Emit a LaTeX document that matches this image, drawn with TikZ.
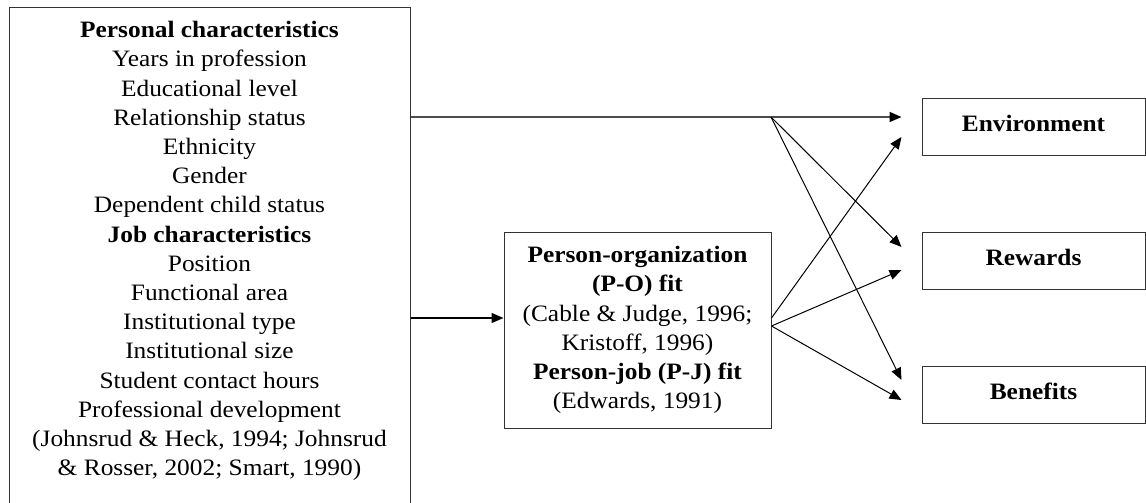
\documentclass[tikz,border=0pt]{standalone}
\usepackage{fontspec}
\setmainfont{Liberation Serif}[FakeStretch=1.08]
\usetikzlibrary{arrows.meta,calc}
\begin{document}
\begin{tikzpicture}[x=1pt,y=-1pt,
 box/.style={draw=black!80,line width=1pt,inner sep=0pt},
 txt/.style={align=center,font=\fontsize{23.5}{29.2}\selectfont,inner sep=0pt},
 conn/.style={line width=1pt,-{Triangle[length=12pt,width=10pt,color=black]}},
 hline/.style={draw=black!70,line width=1.7pt,-{Triangle[length=12pt,width=10pt,color=black]}}]
\useasboundingbox (0,0) rectangle (1146,503);
\clip (0,0) rectangle (1146,503);
\fill[white] (0,0) rectangle (1146,503);
% left box
\node[box,minimum width=401pt,minimum height=520pt,anchor=north west] (pc) at (9,7) {};
\node[txt] (pctext) at (209.5,251) {\textbf{Personal characteristics}\\
Years in profession\\
Educational level\\
Relationship status\\
Ethnicity\\
Gender\\
Dependent child status\\
\textbf{Job characteristics}\\
Position\\
Functional area\\
Institutional type\\
Institutional size\\
Student contact hours\\
Professional development\\
(Johnsrud \& Heck, 1994; Johnsrud\\
\& Rosser, 2002; Smart, 1990)};
% middle box
\node[box,txt,minimum width=267pt,minimum height=196pt] (po) at (637.5,330) {\textbf{Person-organization}\\
\textbf{(P-O) fit}\\
(Cable \& Judge, 1996;\\
Kristoff, 1996)\\
\textbf{Person-job (P-J) fit}\\
(Edwards, 1991)};
% right boxes
\node[box,txt,minimum width=223pt,minimum height=57pt,text depth=6pt] (env) at (1033.5,126.5) {\textbf{Environment}};
\node[box,txt,minimum width=223pt,minimum height=57pt,text depth=6pt] (rew) at (1033.5,260.5) {\textbf{Rewards}};
\node[box,txt,minimum width=223pt,minimum height=57pt,text depth=6pt] (ben) at (1033.5,394.5) {\textbf{Benefits}};
% coordinates
\coordinate (split) at (771,117);
\coordinate (pa) at ($(po.east)+(0,-12)$);
\coordinate (pb) at ($(po.east)+(0,-4)$);
% connectors
\draw[hline] (pc.east |- split) -- ($(env.west |- split)+(-20,0)$);
\draw[conn,line width=1.2pt] (pc.east |- pa) -- (po.west |- pa);
\draw[conn] (split) -- ($(rew.west)+(-20,-13.5)$);
\draw[conn] (split) -- ($(ben.west)+(-20,-14.5)$);
\draw[conn] (pa) -- ($(env.west)+(-20,10.5)$);
\draw[conn] (pb) -- ($(rew.west)+(-20,9.5)$);
\draw[conn] (pb) -- ($(ben.west)+(-20,5.5)$);
\end{tikzpicture}
\end{document}
